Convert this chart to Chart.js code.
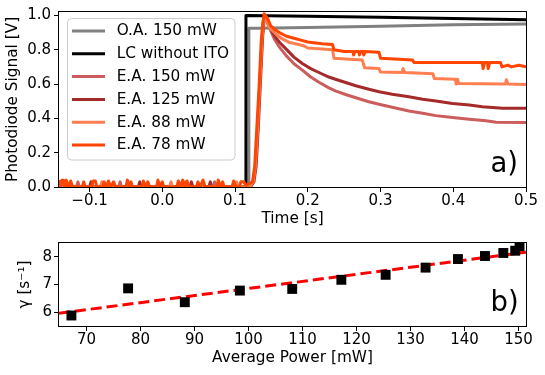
<!DOCTYPE html>
<html><head><meta charset="utf-8">
<script src="https://cdn.jsdelivr.net/npm/chart.js@4.4.1/dist/chart.umd.min.js"></script>
<style>
html,body{margin:0;padding:0;background:#fff;width:545px;height:375px;overflow:hidden}
canvas{position:absolute;left:0}
#ca{top:0}
#cb{top:232px}
</style></head><body>
<canvas id="ca" width="545" height="232"></canvas>
<canvas id="cb" width="545" height="143"></canvas>
<script>
// ---------- Panel a) data : [time (s), photodiode signal (V)] ----------
const seriesLabels = ['O.A. 150 mW', 'LC without ITO', 'E.A. 150 mW', 'E.A. 125 mW', 'E.A. 88 mW', 'E.A. 78 mW'];
const seriesColors = ['#808080', '#000000', '#cd5c5c', '#a52a2a', '#ff7f50', '#ff4500'];

const oa150 = [[-0.142,0],[0.119,0],[0.119,0.925],[0.13,0.925],[0.2,0.93],[0.3,0.937],[0.4,0.945],[0.5,0.95]];
const lcNoIto = [[-0.142,0],[0.115,0],[0.115,1.0],[0.2,0.995],[0.3,0.99],[0.4,0.982],[0.5,0.975]];
const ea150 = [[-0.142,0.01],[-0.130,0],[-0.118,0],[-0.116,0.03],[-0.114,0],[-0.060,0],[-0.058,0.03],[-0.056,0],
  [0.030,0],[0.032,0.03],[0.034,0],[0.070,0],[0.072,0.03],[0.074,0],[0.120,0],[0.125,0.03],[0.128,0.12],[0.131,0.33],
  [0.134,0.6],[0.137,0.85],[0.139,0.96],[0.141,1.0],[0.147,0.93],[0.154,0.863],[0.161,0.815],[0.170,0.767],[0.181,0.718],
  [0.193,0.68],[0.204,0.641],[0.216,0.609],[0.229,0.578],[0.238,0.56],[0.252,0.539],[0.266,0.52],[0.284,0.497],
  [0.298,0.482],[0.316,0.465],[0.339,0.443],[0.358,0.43],[0.376,0.416],[0.399,0.405],[0.422,0.395],[0.445,0.386],
  [0.459,0.378],[0.5,0.376]];
const ea125 = [[-0.142,0],[-0.100,0],[-0.098,0.03],[-0.096,0],[-0.033,0],[-0.031,0.03],[-0.029,0],[0.038,0],[0.040,0.03],
  [0.042,0],[0.064,0],[0.066,0.03],[0.068,0],[0.121,0],[0.126,0.03],[0.129,0.12],[0.132,0.35],[0.135,0.62],[0.138,0.88],
  [0.140,0.97],[0.142,1.0],[0.147,0.94],[0.154,0.882],[0.161,0.844],[0.170,0.805],[0.181,0.757],[0.193,0.718],
  [0.204,0.69],[0.216,0.666],[0.229,0.641],[0.238,0.628],[0.252,0.609],[0.266,0.59],[0.284,0.57],[0.298,0.555],
  [0.316,0.541],[0.339,0.526],[0.358,0.512],[0.376,0.501],[0.399,0.487],[0.422,0.478],[0.440,0.468],[0.468,0.459],[0.5,0.459]];
const ea88 = [[-0.142,0],[-0.085,0],[-0.083,0.03],[-0.081,0],[0.010,0],[0.012,0.03],[0.014,0],[0.100,0],[0.102,0.03],
  [0.104,0],[0.120,0],[0.125,0.03],[0.128,0.12],[0.131,0.34],[0.134,0.6],[0.137,0.86],[0.139,0.96],[0.141,1.0],
  [0.147,0.93],[0.156,0.892],[0.165,0.863],[0.174,0.844],[0.193,0.825],[0.200,0.81],[0.234,0.80],[0.236,0.75],
  [0.275,0.74],[0.278,0.695],[0.298,0.69],[0.300,0.67],[0.330,0.668],[0.331,0.69],[0.333,0.668],[0.372,0.66],
  [0.374,0.632],[0.403,0.628],[0.404,0.60],[0.406,0.628],[0.407,0.603],[0.472,0.60],[0.473,0.625],[0.475,0.60],[0.5,0.597]];
const ea78 = [[-0.142,0.04],[-0.140,0],[-0.138,0.04],[-0.136,0.04],[-0.134,0],[-0.132,0.04],[-0.129,0],[-0.126,0.035],
  [-0.123,0],[-0.110,0],[-0.108,0.03],[-0.106,0],[-0.097,0],[-0.095,0.035],[-0.092,0.035],[-0.090,0],[-0.082,0],
  [-0.080,0.03],[-0.077,0],[-0.074,0.035],[-0.071,0],[-0.067,0.03],[-0.064,0],[-0.050,0],[-0.048,0.04],[-0.045,0],
  [-0.043,0.03],[-0.041,0],[-0.028,0],[-0.026,0.035],[-0.023,0],[-0.020,0.03],[-0.017,0],[-0.008,0],[-0.006,0.04],
  [-0.003,0],[0.000,0.03],[0.002,0],[0.020,0],[0.022,0.035],[0.025,0],[0.028,0.04],[0.031,0],[0.034,0.035],[0.037,0],
  [0.047,0],[0.049,0.03],[0.052,0],[0.056,0.04],[0.059,0],[0.075,0],[0.077,0.04],[0.080,0],[0.083,0.03],[0.085,0],
  [0.096,0],[0.098,0.035],[0.101,0],[0.106,0],[0.108,0.03],[0.112,0.03],[0.115,0.01],[0.120,0.02],[0.124,0.03],
  [0.127,0.12],[0.130,0.35],[0.133,0.58],[0.136,0.85],[0.138,0.95],[0.140,1.01],[0.145,0.98],[0.149,0.94],[0.154,0.92],
  [0.161,0.90],[0.170,0.88],[0.181,0.867],[0.193,0.853],[0.200,0.845],[0.220,0.835],[0.234,0.83],[0.236,0.80],
  [0.250,0.79],[0.262,0.79],[0.263,0.77],[0.265,0.79],[0.270,0.79],[0.271,0.77],[0.273,0.79],[0.276,0.79],[0.277,0.77],
  [0.279,0.79],[0.298,0.785],[0.300,0.75],[0.344,0.74],[0.346,0.725],[0.440,0.725],[0.441,0.69],[0.443,0.725],
  [0.447,0.725],[0.448,0.69],[0.450,0.725],[0.465,0.725],[0.467,0.70],[0.475,0.71],[0.480,0.70],[0.490,0.71],[0.500,0.70]];
const seriesData = [oa150, lcNoIto, ea150, ea125, ea88, ea78];

const timeTicks = [-0.1, 0, 0.1, 0.2, 0.3, 0.4, 0.5];
const timeTickLabels = ['\u22120.1', '0.0', '0.1', '0.2', '0.3', '0.4', '0.5'];
const signalTicks = [0, 0.2, 0.4, 0.6, 0.8, 1.0];
const signalTickLabels = ['0.0', '0.2', '0.4', '0.6', '0.8', '1.0'];

// ---------- Panel b) data ----------
const avgPower = [67.2, 77.7, 88.2, 98.4, 108.1, 117.2, 125.4, 132.8, 138.8, 143.8, 147.2, 149.4, 150.2];
const gammaRate = [5.88, 6.86, 6.36, 6.78, 6.84, 7.17, 7.35, 7.61, 7.92, 8.03, 8.14, 8.22, 8.38];
const fitPower = [64.9, 151.4];
const fitGamma = [5.96, 8.17];
const powerTicks = [70, 80, 90, 100, 110, 120, 130, 140, 150];
const powerTickLabels = ['70', '80', '90', '100', '110', '120', '130', '140', '150'];
const gammaTicks = [6, 7, 8];
const gammaTickLabels = ['6', '7', '8'];

// ---------- styling ----------
Chart.defaults.font.family = '"DejaVu Sans", sans-serif';
Chart.defaults.color = '#000';
const FONT_TICK = {size: 15, lineHeight: 1.2};
const FONT_TITLE = {size: 15.3, lineHeight: 1.2};

const frame = {
  id: 'frame',
  afterDatasetsDraw(chart) {
    const a = chart.chartArea, c = chart.ctx;
    c.save(); c.strokeStyle = '#000'; c.lineWidth = 1;
    c.strokeRect(Math.round(a.left) - 0.5, Math.round(a.top) - 0.5, Math.round(a.right - a.left) + 1, Math.round(a.bottom - a.top) + 1);
    c.restore();
  }
};
const panelLabel = {
  id: 'panelLabel',
  afterDraw(chart, args, opts) {
    const c = chart.ctx;
    c.save(); c.font = '27.5px "DejaVu Sans"'; c.fillStyle = '#000'; c.textBaseline = 'alphabetic'; c.textAlign = 'left';
    c.fillText(opts.text, opts.x, opts.y); c.restore();
  }
};
const insideLegend = {
  id: 'insideLegend',
  afterDraw(chart, args, opts) {
    if (!opts.show) return;
    const c = chart.ctx;
    c.save();
    c.beginPath(); c.roundRect(67.5, 18.5, 167.5, 141.5, 4);
    c.fillStyle = 'rgba(255,255,255,0.8)'; c.fill();
    c.strokeStyle = '#cccccc'; c.lineWidth = 1; c.stroke();
    c.font = '15.3px "DejaVu Sans"'; c.textBaseline = 'middle'; c.textAlign = 'left';
    chart.data.datasets.forEach((ds, i) => {
      const y = 31 + i * 22.8;
      c.beginPath(); c.moveTo(72, y); c.lineTo(105, y);
      c.strokeStyle = ds.borderColor; c.lineWidth = 3; c.stroke();
      c.fillStyle = '#000'; c.fillText(ds.label, 116.7, y + 0.5);
    });
    c.restore();
  }
};

function tickSetter(values) { return s => { s.ticks = values.map(v => ({value: v})); }; }

new Chart(document.getElementById('ca'), {
  type: 'scatter',
  data: {
    datasets: seriesData.map((d, i) => ({
      label: seriesLabels[i],
      data: d.map(p => ({x: p[0], y: p[1]})),
      showLine: true, pointRadius: 0, borderColor: seriesColors[i], backgroundColor: seriesColors[i],
      borderWidth: 3, tension: 0, borderJoinStyle: 'round', clip: 0, order: seriesData.length - i
    }))
  },
  options: {
    responsive: false, animation: false, devicePixelRatio: 1, events: [],
    layout: {autoPadding: false, padding: {left: 0, right: 19, top: 11, bottom: 0}},
    plugins: {legend: {display: false}, tooltip: {enabled: false},
      insideLegend: {show: true}, panelLabel: {text: 'a)', x: 490.5, y: 172}},
    scales: {
      x: {type: 'linear', min: -0.142, max: 0.5,
        afterBuildTicks: tickSetter(timeTicks), afterFit: s => { s.height = 45; },
        ticks: {autoSkip: false, maxRotation: 0, padding: 0, font: FONT_TICK, callback: (v, i) => timeTickLabels[i]},
        grid: {drawOnChartArea: false, drawTicks: true, tickLength: 5, color: '#000'},
        border: {display: false},
        title: {display: true, text: 'Time [s]', font: FONT_TITLE}},
      y: {type: 'linear', min: 0, max: 1.02,
        afterBuildTicks: tickSetter(signalTicks), afterFit: s => { s.width = 59; },
        ticks: {autoSkip: false, padding: 3, font: FONT_TICK, callback: (v, i) => signalTickLabels[i]},
        grid: {drawOnChartArea: false, drawTicks: true, tickLength: 5, color: '#000'},
        border: {display: false},
        title: {display: true, text: 'Photodiode Signal [V]', font: FONT_TITLE}}
    }
  },
  plugins: [frame, insideLegend, panelLabel]
});

new Chart(document.getElementById('cb'), {
  type: 'scatter',
  data: {
    datasets: [
      {label: 'data', data: avgPower.map((p, i) => ({x: p, y: gammaRate[i]})),
       pointStyle: 'rect', pointRadius: 7, pointBackgroundColor: '#000', pointBorderColor: '#000', pointBorderWidth: 0,
       showLine: false, clip: 0, order: 1},
      {label: 'fit', data: fitPower.map((p, i) => ({x: p, y: fitGamma[i]})),
       showLine: true, pointRadius: 0, borderColor: '#ff0000', borderWidth: 3, borderDash: [11, 5], clip: 0, order: 2}
    ]
  },
  options: {
    responsive: false, animation: false, devicePixelRatio: 1, events: [],
    layout: {autoPadding: false, padding: {left: 12.3, right: 19, top: 10, bottom: 3.5}},
    plugins: {legend: {display: false}, tooltip: {enabled: false},
      insideLegend: {show: false}, panelLabel: {text: 'b)', x: 490.5, y: 79}},
    scales: {
      x: {type: 'linear', min: 64.9, max: 151.4,
        afterBuildTicks: tickSetter(powerTicks), afterFit: s => { s.height = 45.5; },
        ticks: {autoSkip: false, maxRotation: 0, padding: 0, font: FONT_TICK, callback: (v, i) => powerTickLabels[i]},
        grid: {drawOnChartArea: false, drawTicks: true, tickLength: 5, color: '#000'},
        border: {display: false},
        title: {display: true, text: 'Average Power [mW]', font: FONT_TITLE}},
      y: {type: 'linear', min: 5.5, max: 8.5,
        afterBuildTicks: tickSetter(gammaTicks), afterFit: s => { s.width = 46.7; },
        ticks: {autoSkip: false, padding: 2, font: FONT_TICK, callback: (v, i) => gammaTickLabels[i]},
        grid: {drawOnChartArea: false, drawTicks: true, tickLength: 5, color: '#000'},
        border: {display: false},
        title: {display: true, text: '\u03b3 [s\u207b\u00b9]', font: FONT_TITLE}}
    }
  },
  plugins: [frame, insideLegend, panelLabel]
});
</script>
</body></html>
